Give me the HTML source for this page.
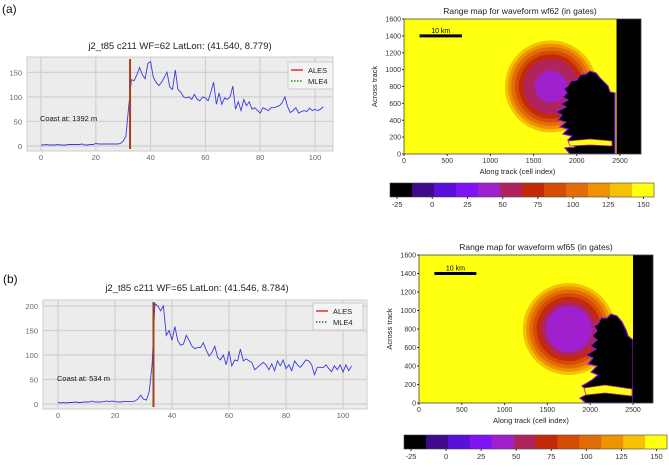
<!DOCTYPE html>
<html><head><meta charset="utf-8"><style>
html,body{margin:0;padding:0;background:#fff;}
svg{display:block;font-family:"Liberation Sans",sans-serif;}
</style></head><body>
<svg id="fig" width="669" height="467" viewBox="0 0 669 467"></svg>
<script>
const xTicks=[0,20,40,60,80,100];
const yTicksA=[0,50,100,150];
const yTicksB=[0,50,100,150,200];
const seriesA=[2,2,3,2,2,2,3,2,2,2,3,3,3,3,3,4,2,2,3,3,5,4,4,4,4,4,4,4,4,5,10,20,80,135,133,145,160,145,137,168,172,140,130,123,130,140,150,120,115,155,115,110,100,98,100,95,105,95,92,100,98,92,110,130,85,108,85,98,95,100,122,75,90,72,95,82,90,75,78,72,67,78,75,72,78,78,80,82,88,100,80,68,72,78,67,70,72,70,77,72,75,72,75,80];
const seriesB=[3,2,3,2,3,3,4,3,3,4,4,4,6,4,4,4,5,6,5,6,5,4,4,5,5,5,5,6,10,18,10,8,25,80,205,200,190,200,140,150,130,158,130,120,122,140,130,118,113,115,115,125,110,98,105,118,95,90,100,80,108,78,90,88,112,88,92,88,85,70,75,80,85,80,70,82,68,88,78,90,72,80,68,88,80,75,82,90,88,80,60,75,75,74,80,72,66,78,70,80,65,80,68,78];
const coastA=32.5, coastB=33.5;
const cbTicks=[-25,0,25,50,75,100,125,150];
const cbColors=["#000000","#3f0a8c","#5a10d8","#7e14f4","#a020d0","#b0245e","#c42a08","#d44c06","#e26c08","#ee9200","#f4c200","#ffff10"];
const mapXTicks=[0,500,1000,1500,2000,2500];
const mapYTicks=[0,200,400,600,800,1000,1200,1400,1600];

const NS="http://www.w3.org/2000/svg";
const svg=document.getElementById('fig');
function el(tag,attrs,parent){const e=document.createElementNS(NS,tag);for(const k in attrs)e.setAttribute(k,attrs[k]);(parent||svg).appendChild(e);return e;}
function txt(x,y,s,size,anchor,fill,parent){const t=el('text',{x:x,y:y,'font-size':size,'text-anchor':anchor||'start',fill:fill||'#222'},parent);t.textContent=s;return t;}

function lineChart(cfg){
  const g=el('g',{});
  
  
  const sx=v=>cfg.x0+(v-0)*cfg.kx, sy=v=>cfg.y0-v*cfg.ky;
  const bg=el('rect',{x:cfg.L,y:cfg.T,width:cfg.R-cfg.L,height:cfg.B-cfg.T,fill:'#ececec',stroke:'#ccc'},g);
  
  xTicks.forEach(v=>{const x=sx(v);el('line',{x1:x,x2:x,y1:cfg.T,y2:cfg.B,stroke:'#d0d0d0','stroke-width':1.2},g);
    const t=txt(x,cfg.B+9,String(v),7.5,'middle','#666',g);});
  cfg.yt.forEach(v=>{const y=sy(v);el('line',{x1:cfg.L,x2:cfg.R,y1:y,y2:y,stroke:'#d0d0d0','stroke-width':1.2},g);
    const t=txt(cfg.L-5,y+3,String(v),7.5,'end','#666',g);});
  const pts=cfg.data.map((v,i)=>sx(i).toFixed(1)+','+sy(v).toFixed(1)).join(' ');
  const pl=el('polyline',{points:pts,fill:'none',stroke:'#3a3ae0','stroke-width':0.9},g);
  
  const cx=sx(cfg.coast);
  const l1=el('line',{x1:cx,x2:cx,y1:cfg.T+2,y2:cfg.B-2,stroke:'#e02020','stroke-width':2},g);
  
  const l2=el('line',{x1:cx,x2:cx,y1:cfg.T+2,y2:cfg.B-2,stroke:'#1a8a1a','stroke-width':1.2,'stroke-dasharray':'1.5,1.5'},g);
  
  const ct=txt(cfg.coastX,cfg.coastY,cfg.coastText,7.5,'start','#111',g);
  const tt=txt(cfg.titleX,cfg.titleY,cfg.title,9.5,'middle','#222',g);
  const lg=el('g',{},g);
  el('rect',{x:cfg.lx,y:cfg.ly,width:cfg.lw,height:27,fill:'#f4f4f4',stroke:'#ccc'},lg);
  el('line',{x1:cfg.lx+3,x2:cfg.lx+15,y1:cfg.ly+8,y2:cfg.ly+8,stroke:'#e03030','stroke-width':1.5},lg);
  el('line',{x1:cfg.lx+3,x2:cfg.lx+15,y1:cfg.ly+19,y2:cfg.ly+19,stroke:'#1a8a1a','stroke-width':1.5,'stroke-dasharray':'1.5,1.5'},lg);
  txt(cfg.lx+20,cfg.ly+11,'ALES',7.5,'start','#222',lg);
  txt(cfg.lx+20,cfg.ly+22,'MLE4',7.5,'start','#222',lg);
}

lineChart({name:'waveform-chart-a',L:27,R:333,T:57,B:151,x0:41,kx:2.74,y0:146,ky:0.491,yt:yTicksA,data:seriesA,coast:coastA,
  coastX:40,coastY:121,coastText:'Coast at: 1392 m',title:'j2_t85 c211 WF=62 LatLon: (41.540, 8.779)',titleX:180,titleY:49,lx:288,ly:62,lw:45});
lineChart({name:'waveform-chart-b',L:43,R:367,T:300,B:409,x0:58,kx:2.85,y0:404,ky:0.49,yt:yTicksB,data:seriesB,coast:coastB,
  coastX:57,coastY:381,coastText:'Coast at: 534 m',title:'j2_t85 c211 WF=65 LatLon: (41.546, 8.784)',titleX:197,titleY:291,lx:313,ly:303,lw:50});

let pa=txt(2,13,'(a)',12,'start','#111');
let pb=txt(3,283,'(b)',12,'start','#111');

function rangeMap(cfg){
  const g=el('g',{});
  
  
  const clipId='clip'+cfg.name;
  const cp=el('clipPath',{id:clipId},g);
  el('rect',{x:cfg.L,y:cfg.T,width:cfg.R-cfg.L,height:cfg.B-cfg.T},cp);
  const inner=el('g',{'clip-path':'url(#'+clipId+')'},g);
  el('rect',{x:cfg.L,y:cfg.T,width:cfg.R-cfg.L,height:cfg.B-cfg.T,fill:'#ffff10'},inner);
  const sx=v=>cfg.L+v*cfg.kx, sy=v=>cfg.B-v*(cfg.B-cfg.T)/1600;
  const cx=sx(cfg.cx), cy=sy(800);
  const ringCols=["#f4c200","#ee9200","#e26c08","#d44c06","#c42a08","#b0245e","#a020d0"];
  const ringFrac=[1,0.93,0.86,0.78,0.70,0.6,0];
  ringCols.forEach((c,i)=>{const r=i===ringCols.length-1?cfg.rIn:cfg.rOut*ringFrac[i];el('circle',{cx:cx,cy:cy,r:r,fill:c},inner);});
  const land=el('polygon',{points:cfg.blob.map(p=>p.join(',')).join(' '),fill:'#000',stroke:'#8a18d8','stroke-width':1.2,'stroke-linejoin':'miter'},inner);
  
  el('polygon',{points:cfg.streak.map(p=>p.join(',')).join(' '),fill:'#ffff10',stroke:'#b02080','stroke-width':0.8},inner);
  el('rect',{x:sx(cfg.rectX),y:cfg.T,width:cfg.R-sx(cfg.rectX),height:cfg.B-cfg.T,fill:'#000'},inner);
  el('rect',{x:cfg.L,y:cfg.T,width:cfg.R-cfg.L,height:cfg.B-cfg.T,fill:'none',stroke:'#444','stroke-width':0.8},g);
  const sb=el('line',{x1:sx(180),x2:sx(670),y1:sy(1400),y2:sy(1400),stroke:'#000','stroke-width':3},g);
  
  txt(sx(425),sy(1400)-3,'10 km',7,'middle','#000',g);
  mapXTicks.forEach(v=>{const x=sx(v);el('line',{x1:x,x2:x,y1:cfg.B,y2:cfg.B+2,stroke:'#333'},g);txt(x,cfg.B+9,String(v),7,'middle','#333',g);});
  mapYTicks.forEach(v=>{const y=sy(v);el('line',{x1:cfg.L-2,x2:cfg.L,y1:y,y2:y,stroke:'#333'},g);txt(cfg.L-3,y+2.5,String(v),7,'end','#333',g);});
  const xt=txt((cfg.L+cfg.R)/2-5,cfg.B+20,'Along track (cell index)',7.5,'middle','#222',g);
  const yt=txt(0,0,'Across track',7.5,'middle','#222',g);yt.setAttribute('transform','translate('+(cfg.L-27)+','+((cfg.T+cfg.B)/2)+') rotate(-90)');
  
  const tt=txt(cfg.titleX,cfg.T-5,cfg.title,8.5,'middle','#222',g);
  const cb=el('g',{},g);
  const w=(cfg.cbR-cfg.cbL)/cbColors.length;
  cbColors.forEach((c,i)=>el('rect',{x:cfg.cbL+i*w,y:cfg.cbT,width:w+0.3,height:14,fill:c},cb));
  el('rect',{x:cfg.cbL,y:cfg.cbT,width:cfg.cbR-cfg.cbL,height:14,fill:'none',stroke:'#444','stroke-width':0.6},cb);
  const v0=-30, v1=157.5;
  cbTicks.forEach(v=>{const x=cfg.cbL+(v-v0)/(v1-v0)*(cfg.cbR-cfg.cbL);el('line',{x1:x,x2:x,y1:cfg.cbT+14,y2:cfg.cbT+16,stroke:'#333'},cb);txt(x,cfg.cbT+24,String(v),7.5,'middle','#333',cb);});
}

rangeMap({name:'range-map-a',L:404,R:641,T:19,B:154,kx:0.0864,cx:1700,rOut:46,rIn:16,rectX:2460,titleX:520,
  title:'Range map for waveform wf62 (in gates)',cbL:390,cbR:654,cbT:183,
  blob:[[615,93],[610,92],[608,86],[604,82],[600,78],[596,73],[590,71],[586,74],[580,75],[577,80],[571,81],[568,86],[564,89],[567,93],[563,97],[568,100],[561,104],[566,107],[556,112],[562,115],[558,120],[566,122],[560,127],[568,129],[563,134],[572,136],[568,140],[575,147],[565,148],[570,154],[615,154]],
  streak:[[568,141],[590,139],[612,141],[612,146],[590,145],[570,146]]});
rangeMap({name:'range-map-b',L:419,R:653,T:255,B:403,kx:0.0856,cx:1750,rOut:46,rIn:23,rectX:2500,titleX:536,
  title:'Range map for waveform wf65 (in gates)',cbL:404,cbR:667,cbT:435,
  blob:[[633,340],[628,336],[626,330],[622,322],[617,316],[611,314],[607,318],[601,318],[598,324],[594,326],[597,331],[592,336],[597,340],[590,346],[596,349],[586,355],[593,358],[588,364],[597,366],[591,372],[598,375],[592,380],[582,386],[590,393],[580,398],[586,403],[633,403]],
  streak:[[584,388],[605,385],[632,389],[632,396],[605,393],[586,395]]});
</script>
</body></html>
